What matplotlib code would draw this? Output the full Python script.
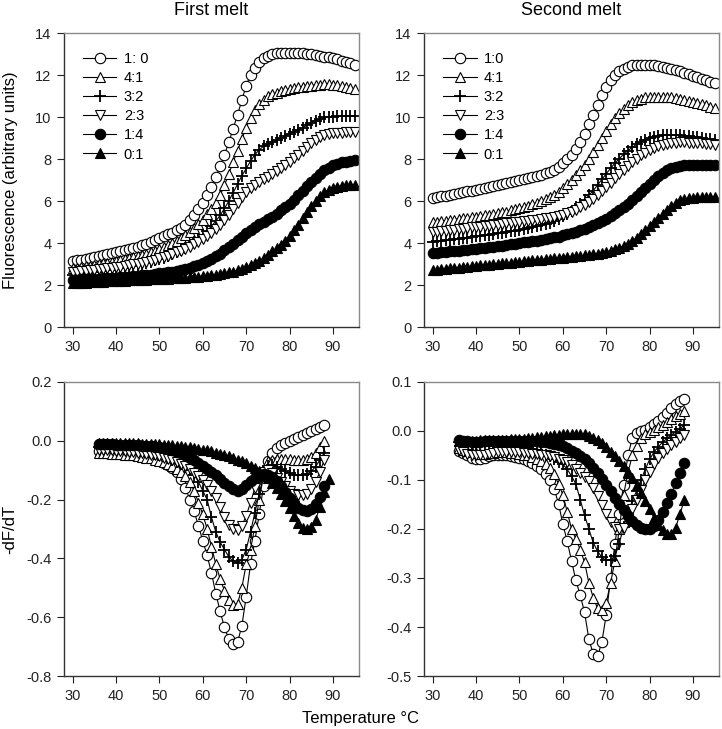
import numpy as np
import matplotlib
matplotlib.use('Agg')
import matplotlib.pyplot as plt

plt.rcParams['font.family'] = ['Liberation Sans', 'DejaVu Sans']
plt.rcParams['axes.unicode_minus'] = False

# temperature grids (deg C)
temp_melt = np.arange(30, 96)
temp_deriv = np.arange(36, 89)
temp_deriv_long = np.arange(36, 90)

labels_first = ['1: 0', '4:1', '3:2', '2:3', '1:4', '0:1']
labels_second = ['1:0', '4:1', '3:2', '2:3', '1:4', '0:1']

# ---- first melt, fluorescence ----
m1_c10 = [3.15, 3.18, 3.21, 3.25, 3.29, 3.33, 3.38, 3.43, 3.48, 3.53,
          3.59, 3.63, 3.67, 3.72, 3.77, 3.82, 3.89, 3.96, 4.05, 4.14,
          4.24, 4.32, 4.41, 4.50, 4.60, 4.72, 4.88, 5.08, 5.33, 5.60,
          5.92, 6.28, 6.68, 7.15, 7.65, 8.20, 8.80, 9.45, 10.10, 10.80,
          11.50, 12.00, 12.35, 12.60, 12.80, 12.92, 13.00, 13.04, 13.06, 13.07,
          13.07, 13.06, 13.05, 13.03, 13.01, 12.98, 12.95, 12.92, 12.88, 12.84,
          12.79, 12.74, 12.68, 12.62, 12.55, 12.47]
m1_c41 = [2.80, 2.83, 2.86, 2.89, 2.92, 2.95, 2.99, 3.03, 3.07, 3.11,
          3.15, 3.19, 3.23, 3.28, 3.33, 3.38, 3.44, 3.50, 3.57, 3.64,
          3.72, 3.80, 3.89, 3.99, 4.10, 4.22, 4.36, 4.52, 4.70, 4.90,
          5.12, 5.36, 5.62, 5.92, 6.28, 6.75, 7.30, 7.85, 8.40, 8.95,
          9.50, 9.95, 10.35, 10.62, 10.82, 10.98, 11.08, 11.16, 11.23, 11.29,
          11.34, 11.38, 11.41, 11.44, 11.47, 11.50, 11.52, 11.54, 11.55, 11.55,
          11.54, 11.51, 11.47, 11.42, 11.37, 11.32]
m1_c32 = [2.50, 2.52, 2.54, 2.56, 2.58, 2.61, 2.64, 2.67, 2.70, 2.73,
          2.76, 2.79, 2.83, 2.87, 2.91, 2.95, 3.00, 3.05, 3.11, 3.17,
          3.24, 3.31, 3.39, 3.48, 3.57, 3.67, 3.78, 3.90, 4.04, 4.20,
          4.38, 4.58, 4.80, 5.04, 5.32, 5.65, 6.00, 6.40, 6.80, 7.20,
          7.55, 7.90, 8.20, 8.45, 8.60, 8.70, 8.80, 8.90, 9.00, 9.10,
          9.20, 9.30, 9.40, 9.50, 9.60, 9.72, 9.83, 9.92, 9.98, 10.01,
          10.02, 10.03, 10.03, 10.03, 10.03, 10.03]
m1_c23 = [2.62, 2.64, 2.66, 2.68, 2.70, 2.72, 2.74, 2.76, 2.79, 2.82,
          2.85, 2.88, 2.91, 2.94, 2.98, 3.02, 3.06, 3.11, 3.16, 3.21,
          3.27, 3.33, 3.40, 3.47, 3.55, 3.63, 3.72, 3.82, 3.93, 4.05,
          4.18, 4.33, 4.50, 4.68, 4.88, 5.10, 5.35, 5.62, 5.90, 6.18,
          6.42, 6.62, 6.78, 6.92, 7.04, 7.16, 7.28, 7.41, 7.55, 7.70,
          7.86, 8.03, 8.21, 8.40, 8.58, 8.76, 8.92, 9.05, 9.14, 9.20,
          9.23, 9.25, 9.26, 9.27, 9.27, 9.27]
m1_c14 = [2.25, 2.26, 2.27, 2.28, 2.29, 2.30, 2.31, 2.32, 2.33, 2.34,
          2.35, 2.36, 2.38, 2.40, 2.42, 2.44, 2.46, 2.48, 2.50, 2.52,
          2.55, 2.58, 2.61, 2.64, 2.68, 2.72, 2.77, 2.83, 2.89, 2.96,
          3.04, 3.14, 3.25, 3.37, 3.50, 3.65, 3.81, 3.97, 4.14, 4.31,
          4.47, 4.62, 4.76, 4.89, 5.01, 5.13, 5.26, 5.40, 5.55, 5.71,
          5.88, 6.07, 6.27, 6.49, 6.71, 6.92, 7.12, 7.30, 7.46, 7.59,
          7.70, 7.78, 7.84, 7.88, 7.91, 7.93]
m1_c01 = [2.10, 2.10, 2.11, 2.12, 2.13, 2.14, 2.15, 2.16, 2.17, 2.18,
          2.19, 2.20, 2.21, 2.22, 2.23, 2.24, 2.25, 2.26, 2.27, 2.28,
          2.29, 2.30, 2.31, 2.32, 2.33, 2.34, 2.35, 2.36, 2.38, 2.40,
          2.42, 2.44, 2.47, 2.50, 2.53, 2.57, 2.60, 2.64, 2.70, 2.77,
          2.85, 2.94, 3.04, 3.15, 3.28, 3.43, 3.60, 3.75, 3.92, 4.12,
          4.35, 4.60, 4.88, 5.17, 5.47, 5.76, 6.02, 6.24, 6.41, 6.54,
          6.63, 6.69, 6.73, 6.75, 6.77, 6.78]

# ---- second melt, fluorescence ----
m2_c10 = [6.14, 6.18, 6.22, 6.26, 6.30, 6.34, 6.38, 6.42, 6.46, 6.50,
          6.54, 6.58, 6.62, 6.66, 6.70, 6.74, 6.79, 6.84, 6.89, 6.94,
          6.99, 7.04, 7.09, 7.14, 7.19, 7.25, 7.32, 7.40, 7.50, 7.63,
          7.79, 7.98, 8.20, 8.47, 8.80, 9.20, 9.65, 10.10, 10.58, 11.03,
          11.42, 11.75, 12.00, 12.18, 12.31, 12.40, 12.46, 12.49, 12.50, 12.50,
          12.49, 12.47, 12.44, 12.40, 12.35, 12.30, 12.24, 12.17, 12.10, 12.03,
          11.96, 11.89, 11.82, 11.75, 11.68, 11.60]
m2_c41 = [4.98, 5.01, 5.04, 5.06, 5.09, 5.12, 5.15, 5.17, 5.20, 5.23,
          5.26, 5.29, 5.32, 5.35, 5.38, 5.42, 5.46, 5.50, 5.55, 5.60,
          5.66, 5.72, 5.78, 5.85, 5.92, 6.00, 6.09, 6.19, 6.31, 6.45,
          6.62, 6.80, 7.00, 7.22, 7.46, 7.72, 8.01, 8.33, 8.67, 9.02,
          9.35, 9.66, 9.94, 10.18, 10.39, 10.56, 10.70, 10.80, 10.88, 10.93,
          10.96, 10.97, 10.97, 10.96, 10.95, 10.93, 10.90, 10.86, 10.82, 10.77,
          10.72, 10.67, 10.61, 10.55, 10.49, 10.43]
m2_c32 = [4.05, 4.08, 4.10, 4.13, 4.15, 4.18, 4.21, 4.24, 4.26, 4.29,
          4.32, 4.35, 4.37, 4.40, 4.43, 4.46, 4.49, 4.52, 4.55, 4.58,
          4.62, 4.66, 4.70, 4.74, 4.79, 4.84, 4.90, 4.97, 5.05, 5.15,
          5.27, 5.40, 5.54, 5.70, 5.87, 6.06, 6.27, 6.50, 6.76, 7.03,
          7.30, 7.56, 7.80, 8.02, 8.22, 8.40, 8.56, 8.70, 8.82, 8.92,
          9.00, 9.06, 9.10, 9.13, 9.14, 9.15, 9.15, 9.14, 9.12, 9.10,
          9.07, 9.04, 9.01, 8.97, 8.93, 8.89]
m2_c23 = [4.52, 4.54, 4.57, 4.59, 4.62, 4.64, 4.66, 4.69, 4.71, 4.74,
          4.76, 4.78, 4.81, 4.83, 4.86, 4.88, 4.90, 4.93, 4.95, 4.98,
          5.00, 5.03, 5.05, 5.08, 5.11, 5.14, 5.17, 5.21, 5.25, 5.30,
          5.35, 5.42, 5.50, 5.59, 5.70, 5.82, 5.95, 6.12, 6.30, 6.49,
          6.68, 6.88, 7.08, 7.28, 7.48, 7.67, 7.85, 8.02, 8.17, 8.30,
          8.42, 8.52, 8.60, 8.67, 8.72, 8.76, 8.78, 8.79, 8.79, 8.78,
          8.77, 8.76, 8.74, 8.72, 8.70, 8.67]
m2_c14 = [3.52, 3.54, 3.56, 3.58, 3.60, 3.62, 3.64, 3.66, 3.68, 3.70,
          3.72, 3.74, 3.76, 3.79, 3.82, 3.85, 3.88, 3.91, 3.94, 3.97,
          4.00, 4.03, 4.06, 4.09, 4.12, 4.15, 4.19, 4.23, 4.27, 4.31,
          4.36, 4.41, 4.47, 4.53, 4.60, 4.68, 4.77, 4.86, 4.95, 5.05,
          5.16, 5.28, 5.41, 5.55, 5.70, 5.86, 6.04, 6.23, 6.43, 6.63,
          6.83, 7.02, 7.19, 7.34, 7.46, 7.56, 7.63, 7.68, 7.71, 7.72,
          7.73, 7.73, 7.73, 7.73, 7.73, 7.73]
m2_c01 = [2.71, 2.73, 2.75, 2.77, 2.79, 2.81, 2.83, 2.85, 2.87, 2.89,
          2.91, 2.93, 2.95, 2.97, 2.99, 3.01, 3.03, 3.05, 3.07, 3.09,
          3.11, 3.13, 3.15, 3.17, 3.19, 3.21, 3.23, 3.25, 3.27, 3.29,
          3.31, 3.33, 3.35, 3.37, 3.39, 3.41, 3.44, 3.47, 3.49, 3.53,
          3.58, 3.64, 3.70, 3.77, 3.86, 3.97, 4.10, 4.25, 4.42, 4.60,
          4.79, 4.99, 5.19, 5.39, 5.58, 5.76, 5.91, 6.03, 6.10, 6.14,
          6.16, 6.17, 6.17, 6.17, 6.17, 6.17]

# ---- first melt, -dF/dT ----
d1_c10 = [-0.035, -0.038, -0.040, -0.041, -0.042, -0.043, -0.044, -0.045, -0.047, -0.049,
          -0.052, -0.055, -0.058, -0.062, -0.067, -0.074, -0.082, -0.092, -0.105, -0.130,
          -0.160, -0.200, -0.240, -0.290, -0.340, -0.390, -0.450, -0.520, -0.580, -0.635,
          -0.675, -0.690, -0.685, -0.630, -0.530, -0.420, -0.340, -0.250, -0.155, -0.070,
          -0.040, -0.025, -0.015, -0.007, 0.000, 0.007, 0.013, 0.019, 0.025, 0.032,
          0.040, 0.048, 0.055]
d1_c41 = [-0.040, -0.042, -0.043, -0.044, -0.045, -0.046, -0.047, -0.048, -0.050, -0.052,
          -0.054, -0.057, -0.060, -0.064, -0.068, -0.073, -0.079, -0.086, -0.095, -0.105,
          -0.120, -0.140, -0.170, -0.210, -0.250, -0.300, -0.360, -0.420, -0.470, -0.510,
          -0.540, -0.560, -0.555, -0.500, -0.420, -0.370, -0.290, -0.200, -0.120, -0.070,
          -0.065, -0.063, -0.062, -0.062, -0.063, -0.064, -0.065, -0.065, -0.063, -0.055,
          -0.040, -0.020, 0.000]
d1_c32 = [-0.020, -0.022, -0.024, -0.025, -0.026, -0.027, -0.028, -0.029, -0.030, -0.032,
          -0.034, -0.037, -0.040, -0.044, -0.048, -0.053, -0.058, -0.064, -0.071, -0.079,
          -0.088, -0.100, -0.115, -0.140, -0.170, -0.200, -0.260, -0.310, -0.345, -0.370,
          -0.395, -0.410, -0.415, -0.405, -0.370, -0.310, -0.245, -0.180, -0.120, -0.085,
          -0.082, -0.088, -0.096, -0.104, -0.110, -0.115, -0.117, -0.117, -0.113, -0.104,
          -0.088, -0.065, -0.040]
d1_c23 = [-0.030, -0.031, -0.032, -0.033, -0.034, -0.035, -0.036, -0.037, -0.038, -0.040,
          -0.042, -0.044, -0.047, -0.050, -0.053, -0.057, -0.061, -0.066, -0.072, -0.079,
          -0.087, -0.097, -0.108, -0.120, -0.135, -0.150, -0.170, -0.195, -0.225, -0.260,
          -0.285, -0.300, -0.305, -0.290, -0.255, -0.210, -0.160, -0.125, -0.105, -0.100,
          -0.110, -0.125, -0.140, -0.155, -0.170, -0.180, -0.185, -0.185, -0.180, -0.165,
          -0.140, -0.105, -0.065]
d1_c14 = [-0.012, -0.012, -0.012, -0.012, -0.013, -0.013, -0.013, -0.014, -0.014, -0.015,
          -0.016, -0.017, -0.018, -0.020, -0.022, -0.025, -0.028, -0.032, -0.037, -0.043,
          -0.050, -0.058, -0.066, -0.075, -0.085, -0.095, -0.106, -0.118, -0.130, -0.143,
          -0.155, -0.165, -0.170, -0.165, -0.152, -0.138, -0.125, -0.117, -0.113, -0.115,
          -0.123, -0.136, -0.155, -0.175, -0.195, -0.213, -0.228, -0.237, -0.238, -0.232,
          -0.215, -0.190, -0.155]
d1_c01 = [-0.008, -0.008, -0.008, -0.008, -0.008, -0.008, -0.008, -0.009, -0.009, -0.009,
          -0.010, -0.010, -0.011, -0.011, -0.012, -0.013, -0.014, -0.015, -0.016, -0.018,
          -0.020, -0.022, -0.024, -0.027, -0.030, -0.033, -0.036, -0.040, -0.044, -0.048,
          -0.053, -0.058, -0.064, -0.070, -0.077, -0.085, -0.094, -0.104, -0.115, -0.127,
          -0.142, -0.160, -0.182, -0.205, -0.230, -0.255, -0.278, -0.295, -0.300, -0.293,
          -0.268, -0.225, -0.175, -0.130]

# ---- second melt, -dF/dT ----
d2_c10 = [-0.040, -0.045, -0.050, -0.055, -0.057, -0.057, -0.055, -0.052, -0.050, -0.049,
          -0.049, -0.050, -0.051, -0.053, -0.055, -0.058, -0.062, -0.066, -0.071, -0.078,
          -0.087, -0.100, -0.118, -0.148, -0.190, -0.225, -0.265, -0.305, -0.335, -0.370,
          -0.425, -0.455, -0.460, -0.430, -0.375, -0.300, -0.230, -0.170, -0.110, -0.050,
          -0.015, -0.005, 0.000, 0.003, 0.008, 0.014, 0.020, 0.028, 0.037, 0.047,
          0.055, 0.061, 0.066]
d2_c41 = [-0.035, -0.038, -0.041, -0.043, -0.045, -0.046, -0.046, -0.045, -0.044, -0.043,
          -0.043, -0.043, -0.044, -0.045, -0.046, -0.048, -0.050, -0.053, -0.057, -0.062,
          -0.068, -0.076, -0.088, -0.108, -0.130, -0.165, -0.200, -0.220, -0.242, -0.268,
          -0.310, -0.340, -0.362, -0.365, -0.350, -0.310, -0.265, -0.200, -0.130, -0.085,
          -0.050, -0.030, -0.015, -0.007, -0.002, 0.003, 0.008, 0.013, 0.018, 0.024,
          0.030, 0.035, 0.040]
d2_c32 = [-0.022, -0.024, -0.026, -0.028, -0.029, -0.030, -0.030, -0.030, -0.029, -0.028,
          -0.028, -0.028, -0.029, -0.030, -0.031, -0.032, -0.034, -0.036, -0.039, -0.043,
          -0.048, -0.052, -0.057, -0.063, -0.068, -0.078, -0.092, -0.108, -0.140, -0.172,
          -0.200, -0.228, -0.245, -0.258, -0.264, -0.264, -0.255, -0.230, -0.195, -0.168,
          -0.143, -0.122, -0.100, -0.078, -0.058, -0.043, -0.032, -0.023, -0.015, -0.008,
          -0.002, 0.005, 0.012]
d2_c23 = [-0.038, -0.042, -0.046, -0.049, -0.050, -0.050, -0.049, -0.047, -0.045, -0.043,
          -0.042, -0.042, -0.042, -0.043, -0.043, -0.044, -0.045, -0.046, -0.047, -0.048,
          -0.050, -0.052, -0.054, -0.057, -0.060, -0.064, -0.070, -0.077, -0.085, -0.093,
          -0.103, -0.117, -0.133, -0.152, -0.170, -0.186, -0.196, -0.200, -0.197, -0.182,
          -0.160, -0.140, -0.120, -0.100, -0.083, -0.068, -0.055, -0.045, -0.037, -0.029,
          -0.022, -0.015, -0.008]
d2_c14 = [-0.018, -0.020, -0.021, -0.022, -0.022, -0.022, -0.021, -0.020, -0.020, -0.020,
          -0.020, -0.020, -0.020, -0.020, -0.020, -0.020, -0.020, -0.021, -0.021, -0.022,
          -0.023, -0.024, -0.026, -0.028, -0.031, -0.035, -0.040, -0.045, -0.051, -0.058,
          -0.066, -0.076, -0.086, -0.098, -0.110, -0.123, -0.137, -0.150, -0.162, -0.173,
          -0.183, -0.191, -0.198, -0.201, -0.200, -0.194, -0.182, -0.165, -0.147, -0.128,
          -0.107, -0.085, -0.065]
d2_c01 = [-0.020, -0.020, -0.020, -0.020, -0.020, -0.019, -0.019, -0.018, -0.018, -0.018,
          -0.018, -0.018, -0.017, -0.017, -0.016, -0.016, -0.015, -0.014, -0.013, -0.012,
          -0.011, -0.010, -0.009, -0.008, -0.007, -0.007, -0.006, -0.006, -0.006, -0.007,
          -0.010, -0.014, -0.019, -0.025, -0.033, -0.042, -0.052, -0.062, -0.072, -0.083,
          -0.096, -0.110, -0.126, -0.143, -0.160, -0.177, -0.192, -0.203, -0.210, -0.210,
          -0.197, -0.170, -0.140]

# marker style per ratio: (marker, face colour, size)
styles = [('o', 'white', 7.5), ('^', 'white', 7.5), ('+', 'black', 8),
          ('v', 'white', 7.5), ('o', 'black', 7.5), ('^', 'black', 7.5)]


def draw(ax, xs, series, labels=None):
    for i, y in enumerate(series):
        mk, fc, ms = styles[i]
        x = xs[i] if isinstance(xs, list) else xs
        ax.plot(x, y, color='black', lw=0.8, marker=mk, ms=ms, mfc=fc,
                mec='black', mew=0.8 if mk != '+' else 1.3,
                label=labels[i] if labels else None)


def style(ax, ylim, yticks, fmt):
    ax.set_xlim(28, 96)
    ax.set_xticks([30, 40, 50, 60, 70, 80, 90])
    ax.set_ylim(*ylim)
    ax.set_yticks(yticks)
    ax.set_yticklabels([fmt.format(v) for v in yticks])
    ax.tick_params(direction='out', length=5, width=0.8, labelsize=10.5,
                   colors='#222222', pad=4)
    for s in ['left', 'bottom']:
        ax.spines[s].set_color('#333333')
        ax.spines[s].set_linewidth(1.0)
    for s in ['top', 'right']:
        ax.spines[s].set_color('#8a8a8a')
        ax.spines[s].set_linewidth(1.0)


fig = plt.figure(figsize=(7.22, 7.29), dpi=100)
ax1 = fig.add_axes([0.0886, 0.5514, 0.4086, 0.4033])
ax2 = fig.add_axes([0.5873, 0.5514, 0.4086, 0.4033])
ax3 = fig.add_axes([0.0886, 0.0727, 0.4086, 0.4033])
ax4 = fig.add_axes([0.5873, 0.0727, 0.4086, 0.4033])

draw(ax1, temp_melt, [m1_c10, m1_c41, m1_c32, m1_c23, m1_c14, m1_c01], labels_first)
draw(ax2, temp_melt, [m2_c10, m2_c41, m2_c32, m2_c23, m2_c14, m2_c01], labels_second)
draw(ax3, [temp_deriv] * 5 + [temp_deriv_long],
     [d1_c10, d1_c41, d1_c32, d1_c23, d1_c14, d1_c01])
draw(ax4, temp_deriv, [d2_c10, d2_c41, d2_c32, d2_c23, d2_c14, d2_c01])

style(ax1, (0, 14), [0, 2, 4, 6, 8, 10, 12, 14], '{:g}')
style(ax2, (0, 14), [0, 2, 4, 6, 8, 10, 12, 14], '{:g}')
style(ax3, (-0.8, 0.2), [-0.8, -0.6, -0.4, -0.2, 0.0, 0.2], '{:.1f}')
style(ax4, (-0.5, 0.1), [-0.5, -0.4, -0.3, -0.2, -0.1, 0.0, 0.1], '{:.1f}')

for ax in (ax1, ax2):
    ax.legend(loc='upper left', bbox_to_anchor=(0.0, 1.0), frameon=False,
              fontsize=10.5, handlelength=2.3, handletextpad=0.5,
              labelspacing=0.35, borderpad=0.9, borderaxespad=0.4)

fig.text(0.293, 0.985, 'First melt', ha='center', va='center', fontsize=13)
fig.text(0.791, 0.985, 'Second melt', ha='center', va='center', fontsize=13)
fig.text(0.014, 0.753, 'Fluorescence (arbitrary units)', rotation=90,
         ha='center', va='center', fontsize=12)
fig.text(0.014, 0.274, '-dF/dT', rotation=90, ha='center', va='center', fontsize=12)
fig.text(0.499, 0.015, 'Temperature \u00b0C', ha='center', va='center', fontsize=12)

fig.savefig('out.png', dpi=100)
